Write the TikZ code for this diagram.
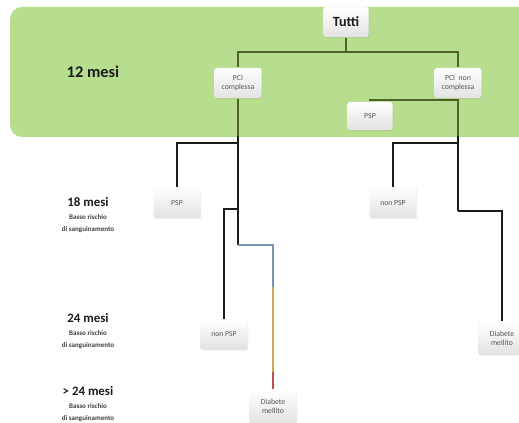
\documentclass[tikz,border=0pt]{standalone}
\usepackage{fontspec}
\setmainfont{Carlito}
\usepackage{tikz}
\usetikzlibrary{positioning,shadows}
\definecolor{BandGreen}{HTML}{B6DE8E}
\definecolor{BandLine}{HTML}{4F6228}
\definecolor{Ink}{HTML}{1C1C1C}
\definecolor{BoxText}{HTML}{555555}
\definecolor{BoxShade}{HTML}{E2E2E2}
\definecolor{DotBlue}{HTML}{A7C3E6}
\definecolor{DotYellow}{HTML}{F3D27A}
\definecolor{DotRed}{HTML}{F2A6A6}
\definecolor{PathBlue}{HTML}{7A93B0}
\definecolor{PathYellow}{HTML}{C9A85A}
\definecolor{PathRed}{HTML}{C0504D}
\tikzset{
  every picture/.style={line width=1.4pt},
  stepbox/.style={
    rounded corners=2pt,
    top color=white,
    bottom color=BoxShade,
    draw=none,
    align=center,
    font=\fontsize{6.6}{8}\selectfont,
    text=BoxText,
    minimum width=14.1mm,
    minimum height=9mm,
    inner sep=1pt,
    drop shadow={opacity=0.12, shadow xshift=0.25mm, shadow yshift=-0.35mm}
  },
  rootbox/.style={stepbox, font=\bfseries\fontsize{12}{14}\selectfont, text=Ink, minimum width=13.5mm},
  dotbox/.style={stepbox,
    path picture={
      \foreach \c in {north west, north east, south west, south east}
        \fill[#1] (path picture bounding box.\c) circle (0.45mm);
    }},
  link/.style={draw=Ink},
  bandlink/.style={draw=BandLine},
  agelabel/.style={font=\bfseries\fontsize{11}{13}\selectfont, text=Ink},
  risklabel/.style={font=\bfseries\fontsize{6}{10.5}\selectfont, text=Ink!85, align=center, inner sep=1pt}
}

\begin{document}
\begin{tikzpicture}[x=0.3mm, y=-0.3mm]
  \clip (0,0) rectangle (519,423);
  \fill[BandGreen, rounded corners=3.6mm] (10,7) rectangle (545,137);

  \node[rootbox] (tutti) at (346,22) {Tutti};
  \node[stepbox] (pcic) at (238,83) {PCI\\complessa};
  \node[stepbox] (pcinc) at (458,83) {PCI\ \ non\\complessa};
  \node[stepbox, minimum width=13.5mm, minimum height=8.4mm] (psp0) at (370,116) {PSP};

  \node[dotbox=DotBlue] (cPsp) at (177,203) {PSP};
  \node[dotbox=DotYellow] (cNon) at (224,334.5) {non PSP};
  \node[dotbox=DotRed, minimum height=9.9mm] (cDm) at (273,406.5) {Diabete\\mellito};
  \node[dotbox=DotBlue] (nPsp) at (393,203) {non PSP};
  \node[dotbox=DotYellow, minimum height=9.9mm] (nDm) at (502,338.5) {Diabete\\mellito};

  \node[agelabel, font=\bfseries\fontsize{14}{16}\selectfont] (m12) at (93,72) {12 mesi};
  \node[agelabel] (m18) at (88,202) {18 mesi};
  \node[risklabel, below=0.4mm of m18] (r18) {Basso rischio\\di sanguinamento};
  \node[agelabel] (m24) at (88,318) {24 mesi};
  \node[risklabel, below=0.4mm of m24] (r24) {Basso rischio\\di sanguinamento};
  \node[agelabel] (m25) at (88,391) {> 24 mesi};
  \node[risklabel, below=0.4mm of m25] (r25) {Basso rischio\\di sanguinamento};

  \coordinate (bus) at (346,52);
  \draw[bandlink] (tutti) -- (bus) -| (pcic);
  \draw[bandlink] (bus) -| (pcinc);

  \coordinate (cBand) at (238,136);
  \coordinate (cJ1) at (238,143);
  \coordinate (cJ2) at (238,209);
  \coordinate (cJ3) at (238,245);
  \coordinate (cTurn) at (273,287);
  \coordinate (cLow) at (273,372);
  \draw[bandlink] (pcic) -- (cBand);
  \draw[link] (cBand) -- (cJ3);
  \draw[link] (cJ1) -| (cPsp);
  \draw[link] (cJ2) -| (cNon);
  \draw[draw=PathBlue] (cJ3) -| (cTurn);
  \draw[draw=PathYellow] (cTurn) -- (cLow);
  \draw[draw=PathRed] (cLow) -- (cDm);

  \coordinate (nJ0) at (458,100);
  \coordinate (nBand) at (458,136);
  \coordinate (nJ1) at (458,143);
  \coordinate (nJ2) at (458,211);
  \draw[bandlink] (pcinc) -- (nBand);
  \draw[bandlink] (nJ0) -| (psp0);
  \draw[link] (nBand) -- (nJ2);
  \draw[link] (nJ1) -| (nPsp);
  \draw[link] (nJ2) -| (nDm);
\end{tikzpicture}
\end{document}
